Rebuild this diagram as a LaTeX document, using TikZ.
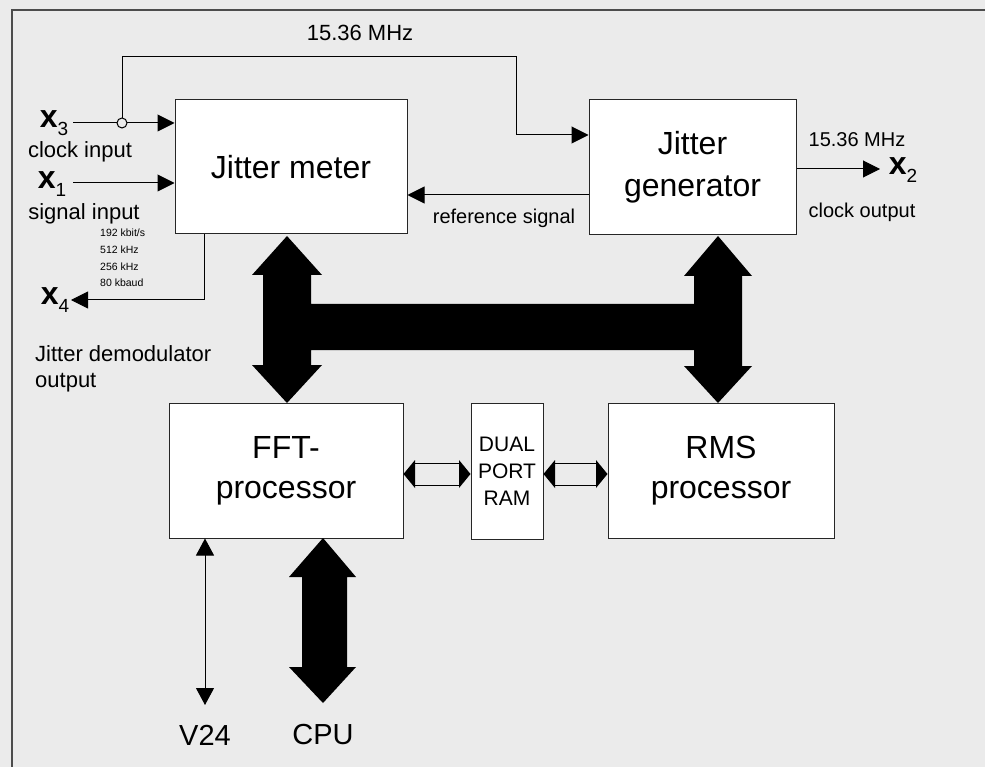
\documentclass[tikz,border=0pt]{standalone}
\usepackage{fontspec}
\setmainfont{Liberation Sans}
\usetikzlibrary{arrows.meta,calc}
\newcommand\xsub[1]{x\raisebox{-0.25em}{\fontsize{19}{19}\selectfont\mdseries #1}}
\begin{document}
\begin{tikzpicture}[x=1pt,y=-1pt,
 box/.style={draw=black!85,fill=white,line width=1pt,inner sep=0pt,align=center},
 big/.style={font=\fontsize{32}{40}\selectfont},
 lab/.style={font=\fontsize{22}{26}\selectfont,inner sep=0pt},
 slab/.style={font=\fontsize{20}{24}\selectfont,inner sep=0pt},
 tinylab/.style={font=\fontsize{10.5}{12}\selectfont,inner sep=0pt,anchor=west},
 xl/.style={font=\fontsize{32}{32}\selectfont\bfseries,inner sep=0pt},
 conn/.style={line width=1pt,-{Triangle[length=17pt,width=17pt]}},
 thin/.style={line width=1pt},
 bus/.style={fill=black},
]
% background and frame
\fill[black!8] (0,0) rectangle (985,767);
\useasboundingbox (0,0) rectangle (985,767);
\draw[line width=1.5pt,black!70] (12,767) -- (12,10) -- (985,10);

% boxes
\node[box,big,minimum width=232pt,minimum height=134pt] (jm) at (291,167) {Jitter meter};
\node[box,big,minimum width=207pt,minimum height=135pt,font=\fontsize{32}{42}\selectfont] (jg) at (692.5,167.5) {Jitter\\generator};
\node[box,big,minimum width=234pt,minimum height=135pt] (fft) at (286,470.5) {FFT-\\processor};
\node[box,minimum width=72pt,minimum height=136pt,font=\fontsize{21}{27}\selectfont] (dpr) at (507,471) {DUAL\\PORT\\RAM};
\node[box,big,minimum width=226pt,minimum height=135pt] (rms) at (721,470.5) {RMS\\processor};

% input labels
\node[xl] (x3) at (54,123) {\xsub{3}};
\node[lab] (ci) at (80,152) {clock input};
\node[xl] (x1) at (52,184) {\xsub{1}};
\node[lab] (si) at (84,214) {signal input};
\node[xl] (x4) at (55,300) {\xsub{4}};
\node[lab,anchor=west,align=left,font=\fontsize{22}{26}\selectfont] (jdo) at (35,369) {Jitter demodulator\\output};
\node[tinylab] (r1) at (100,233) {192 kbit/s};
\node[tinylab] (r2) at (100,250) {512 kHz};
\node[tinylab] (r3) at (100,267) {256 kHz};
\node[tinylab] (r4) at (100,283) {80 kbaud};
\node[lab] (ftop) at (360,33) {15.36 MHz};

% x3 clock input with branch
\coordinate (x3e) at (73,123);
\coordinate (br) at (122,123);
\draw[conn] (x3e) -- (jm.west |- x3e);
\draw[thin,fill=black!8] (br) circle (5pt);
\coordinate (c1) at (122,57);
\coordinate (c2) at (516,57);
\coordinate (c3) at (516,135);
\draw[conn] ($(br)+(0,-5)$) -- (c1) -- (c2) -- (c3) -- (jg.west |- c3);

% x1 signal input
\coordinate (x1e) at (73,183);
\draw[conn] (x1e) -- (jm.west |- x1e);

% x4 demodulator output
\coordinate (d1) at (204,300);
\coordinate (x4e) at (71,300);
\draw[conn] (jm.south -| d1) -- (d1) -- (x4e);

% reference signal
\coordinate (rf) at (560,195);
\draw[conn] (jg.west |- rf) -- (jm.east |- rf);
\node[slab] (rs) at (504,218) {reference signal};

% clock output
\coordinate (x2e) at (880,169);
\draw[conn] (jg.east |- x2e) -- (x2e);
\node[xl] (x2) at (903,170) {\xsub{2}};
\node[slab] (fout) at (857,140) {15.36 MHz};
\node[slab] (co) at (862,212) {clock output};

% thick bus
\fill[bus] (263,275) -- (252,275) -- (287,236) -- (322,275) -- (311,275) -- (311,304)
  -- (694,304) -- (694,276) -- (684,276) -- (718,236) -- (752,276) -- (742,276)
  -- (742,366) -- (752,366) -- (718,403) -- (684,366) -- (694,366) -- (694,350)
  -- (311,350) -- (311,365) -- (322,365) -- (287,403) -- (252,365) -- (263,365) -- cycle;

% small hollow double arrows
\draw[thin] (415,463) -- (459,463) (415,485) -- (459,485);
\fill (fft.east |- 0,474) -- (415,460) -- (415,488) -- cycle;
\fill (dpr.west |- 0,474) -- (459,460) -- (459,488) -- cycle;
\draw[thin] (555,463) -- (596,463) (555,485) -- (596,485);
\fill (dpr.east |- 0,474) -- (555,460) -- (555,488) -- cycle;
\fill (rms.west |- 0,474) -- (596,460) -- (596,488) -- cycle;

% V24
\coordinate (v24e) at (205,705);
\draw[line width=1pt,{Triangle[length=17pt,width=18pt]}-{Triangle[length=17pt,width=18pt]}] (fft.south -| v24e) -- (v24e);
\node[font=\fontsize{29}{30}\selectfont,inner sep=0pt] (v24) at (205,735) {V24};

% CPU
\fill[bus] (323,538) -- (356,577) -- (347,577) -- (347,667) -- (356,667) -- (323,703)
  -- (289,667) -- (302,667) -- (302,577) -- (289,577) -- cycle;
\node[font=\fontsize{29}{30}\selectfont,inner sep=0pt] (cpu) at (323,735) {CPU};
\end{tikzpicture}
\end{document}
